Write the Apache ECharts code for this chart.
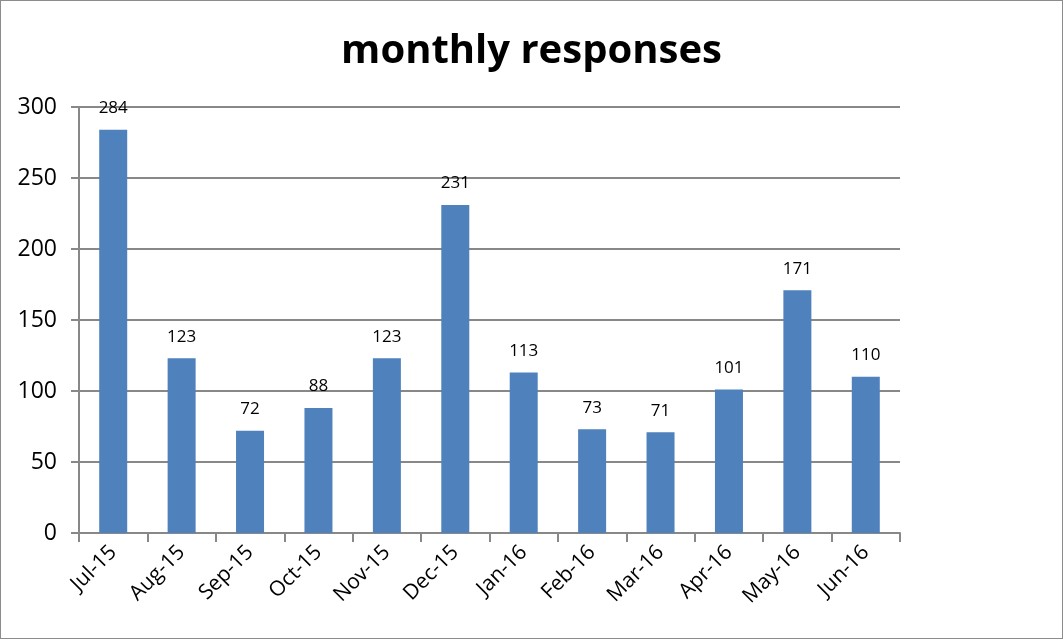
<!DOCTYPE html>
<html>
<head>
<meta charset="utf-8">
<script src="https://cdn.jsdelivr.net/npm/echarts@6/dist/echarts.min.js"></script>
<style>
    html, body { margin: 0; padding: 0; background: #fff; }
    #chart { width: 1063px; height: 639px; box-sizing: border-box; border: 1.5px solid #8c8c8c; border-top-width: 1px; }
</style>
</head>
<body>
<div id="chart"></div>
<script>
    var months = ['Jul-15', 'Aug-15', 'Sep-15', 'Oct-15', 'Nov-15', 'Dec-15',
        'Jan-16', 'Feb-16', 'Mar-16', 'Apr-16', 'May-16', 'Jun-16'];
    var responses = [284, 123, 72, 88, 123, 231, 113, 73, 71, 101, 171, 110];

    var mychart = echarts.init(document.getElementById('chart'));
    var font = '"Open Sans", "Noto Sans", sans-serif';
    var option = {
        animation: false,
        title: {
            text: 'monthly responses',
            left: 'center',
            top: 26,
            textStyle: { fontSize: 40, fontWeight: 'bold', color: '#000', fontFamily: font }
        },
        grid: { left: 78, right: 162, top: 106, bottom: 105 },
        xAxis: {
            type: 'category',
            data: months,
            axisLine: { lineStyle: { color: '#888', width: 2 } },
            axisTick: { show: true, length: 9, alignWithLabel: false, lineStyle: { color: '#888', width: 2 } },
            axisLabel: { rotate: 45, fontSize: 21, color: '#000', fontFamily: font, margin: 16, interval: 0 }
        },
        yAxis: {
            type: 'value',
            min: 0,
            max: 300,
            interval: 50,
            axisLine: { show: true, lineStyle: { color: '#888', width: 2 } },
            axisTick: { show: true, length: 8, lineStyle: { color: '#888', width: 2 } },
            axisLabel: { fontSize: 23, color: '#000', fontFamily: font, margin: 22 },
            splitLine: { lineStyle: { color: '#888', width: 2 } }
        },
        series: [{
            type: 'bar',
            data: responses,
            barWidth: 28,
            itemStyle: { color: '#4f81bd' },
            label: {
                show: true,
                position: 'top',
                distance: 13,
                fontSize: 17,
                color: '#000',
                fontFamily: font
            }
        }]
    };
    mychart.setOption(option);
</script>
</body>
</html>
